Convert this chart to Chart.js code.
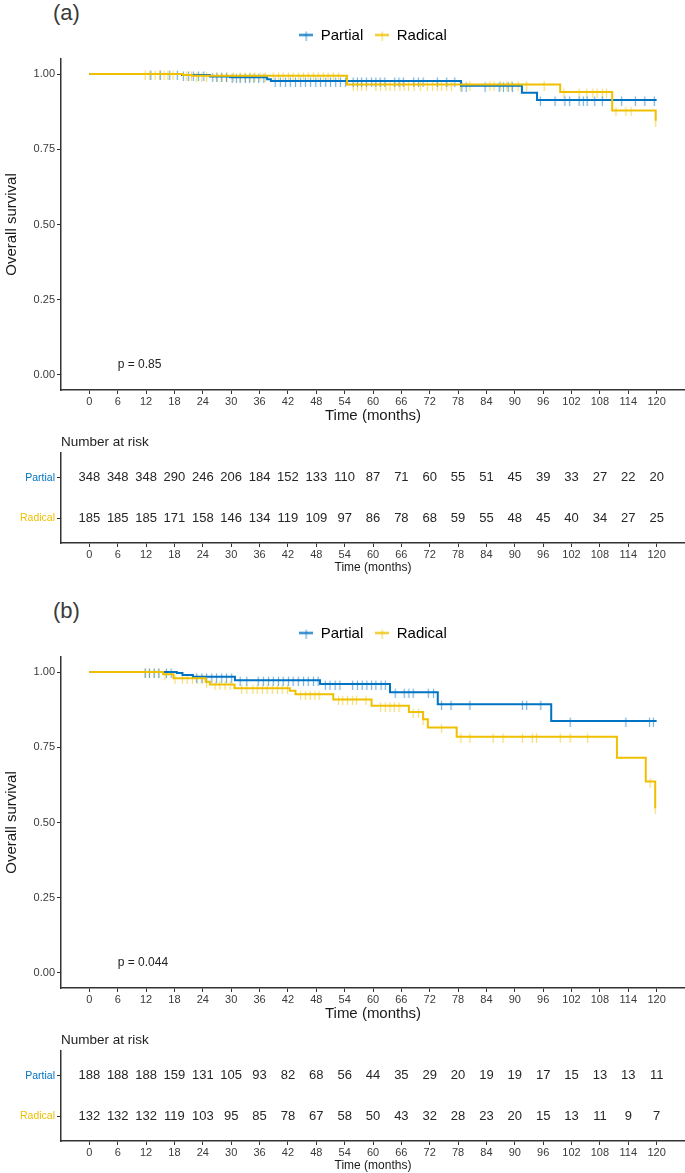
<!DOCTYPE html>
<html>
<head>
<meta charset="utf-8">
<title>Overall survival — partial vs radical</title>
<script src="https://cdn.jsdelivr.net/npm/chart.js@4.4.1/dist/chart.umd.min.js"></script>
<style>
    body { margin: 0; background: #fff; width: 685px; height: 1173px; position: relative; overflow: hidden;
           font-family: 'Liberation Sans', Arial, sans-serif; }
    .panel { position: absolute; left: 0; width: 685px; }
    .panel canvas { position: absolute; left: 0; }
    .tag { position: absolute; left: 53px; top: 2px; font-size: 22px; line-height: 22px; color: #3a3a3a; }
</style>
</head>
<body>

<div class="panel" style="top:0px">
    <div class="tag">(a)</div>
    <canvas id="kmA" width="685" height="425" style="top:0px"></canvas>
    <canvas id="riskA" width="685" height="150" style="top:425px"></canvas>
</div>

<div class="panel" style="top:598px">
    <div class="tag">(b)</div>
    <canvas id="kmB" width="685" height="425" style="top:0px"></canvas>
    <canvas id="riskB" width="685" height="150" style="top:425px"></canvas>
</div>

<script>
/* ─── DATA ─── */
const groups = ['Partial', 'Radical'];
const groupColors = ['#0073C2', '#EFC000'];
const timeTicks = [0, 6, 12, 18, 24, 30, 36, 42, 48, 54, 60, 66, 72, 78, 84, 90, 96, 102, 108, 114, 120];
const survTicks = [0, 0.25, 0.5, 0.75, 1];

// panel (a) — KM steps (time of drop, survival after drop)
const aPartialTime = [0, 19.6, 25.5, 29.8, 37.6, 38.4, 78.6, 91.5, 94.7, 120];
const aPartialSurv = [1, 0.997, 0.992, 0.989, 0.983, 0.977, 0.961, 0.938, 0.914, 0.914];
const aRadicalTime = [0, 19.8, 21.7, 54.5, 99.6, 110.6, 119.8];
const aRadicalSurv = [1, 0.997, 0.994, 0.965, 0.940, 0.879, 0.845];

const aPartialCensor = [13.0, 15.0, 17.0, 18.6, 19.9, 21.0, 22.0, 23.1, 24.2, 26.1, 27.0, 28.0, 29.0, 30.2, 31.1,
    31.9, 33.0, 33.9, 34.8, 35.8, 36.9, 39.3, 40.4, 41.5, 42.5, 43.6, 44.7, 45.7, 46.8, 47.9, 48.9, 50.0, 51.0,
    52.1, 53.1, 54.2, 55.8, 56.7, 57.6, 58.6, 59.7, 60.6, 61.5, 62.5, 64.6, 65.5, 66.4, 68.6, 69.6, 70.6, 73.6,
    75.6, 77.3, 78.8, 79.7, 83.7, 86.7, 87.6, 88.6, 89.5, 95.4, 98.5, 100.6, 101.6, 103.6, 104.5, 105.3, 106.9,
    108.5, 112.6, 115.5, 117.5, 119.5];
const aRadicalCensor = [11.8, 12.8, 13.9, 14.9, 15.8, 16.6, 17.7, 20.6, 21.6, 22.7, 23.8, 24.8, 26.9, 28.0, 29.1,
    30.5, 31.9, 32.9, 34.0, 35.0, 36.1, 37.2, 38.9, 40.0, 41.0, 42.1, 43.1, 44.2, 45.3, 46.3, 47.4, 48.4, 49.5,
    50.5, 51.6, 52.7, 55.8, 56.7, 57.6, 58.6, 60.6, 61.6, 62.7, 63.6, 64.6, 65.7, 66.6, 67.5, 68.7, 70.0, 71.5,
    72.6, 73.6, 74.5, 75.6, 76.6, 78.5, 80.5, 84.7, 85.6, 87.0, 88.3, 89.3, 90.7, 92.5, 96.2, 100.4, 103.6, 105.2,
    106.5, 107.4, 108.5, 109.4, 111.4, 113.5, 114.6, 119.8];

const aPartialRisk = [348, 348, 348, 290, 246, 206, 184, 152, 133, 110, 87, 71, 60, 55, 51, 45, 39, 33, 27, 22, 20];
const aRadicalRisk = [185, 185, 185, 171, 158, 146, 134, 119, 109, 97, 86, 78, 68, 59, 55, 48, 45, 40, 34, 27, 25];
const aPval = 'p = 0.85';

// panel (b)
const bPartialTime = [0, 18.5, 19.7, 21.9, 30.8, 48.8, 63.6, 73.7, 97.7, 120];
const bPartialSurv = [1, 0.997, 0.990, 0.984, 0.973, 0.960, 0.933, 0.893, 0.837, 0.837];
const bRadicalTime = [0, 15.6, 17.8, 24.6, 25.5, 30.7, 42.4, 43.6, 51.6, 59.7, 67.6, 70.6, 71.6, 77.7, 111.6, 117.7, 119.7];
const bRadicalSurv = [1, 0.993, 0.979, 0.968, 0.959, 0.946, 0.938, 0.926, 0.909, 0.888, 0.867, 0.843, 0.816, 0.785, 0.715, 0.636, 0.547];

const bPartialCensor = [11.8, 12.7, 13.7, 14.7, 16.3, 17.3, 22.7, 23.8, 24.8, 25.9, 26.9, 28.0, 29.0, 30.1, 31.9,
    33.3, 35.7, 36.8, 37.9, 38.9, 40.0, 41.0, 42.1, 43.1, 44.2, 45.3, 46.3, 47.4, 48.4, 49.9, 50.9, 52.0, 53.0,
    55.7, 56.7, 57.7, 58.7, 59.7, 60.6, 61.7, 62.6, 64.7, 66.6, 67.6, 68.5, 71.7, 72.8, 74.5, 76.5, 80.5, 91.6,
    92.5, 95.5, 101.7, 113.5, 118.5, 119.3];
const bRadicalCensor = [11.8, 12.7, 13.7, 14.7, 16.0, 18.1, 19.7, 20.7, 21.8, 22.8, 23.9, 24.8, 26.6, 27.6, 28.7,
    29.8, 32.2, 33.3, 34.6, 35.5, 36.6, 37.6, 38.7, 39.8, 40.8, 41.9, 44.7, 45.7, 46.7, 47.7, 48.6, 52.7, 53.6,
    54.6, 55.7, 56.5, 58.5, 61.6, 62.6, 63.6, 64.5, 65.5, 68.5, 69.6, 70.6, 74.5, 78.6, 80.5, 85.4, 87.5, 91.6,
    93.7, 94.6, 99.6, 101.7, 105.4, 118.6, 119.7];

const bPartialRisk = [188, 188, 188, 159, 131, 105, 93, 82, 68, 56, 44, 35, 29, 20, 19, 19, 17, 15, 13, 13, 11];
const bRadicalRisk = [132, 132, 132, 119, 103, 95, 85, 78, 67, 58, 50, 43, 32, 28, 23, 20, 15, 13, 11, 9, 7];
const bPval = 'p = 0.044';

/* ─── STYLE ─── */
const FONT = "'Liberation Sans', Arial, sans-serif";
Chart.defaults.font.family = FONT;
Chart.defaults.color = '#222';
const axisColor = '#333';
const tickColor = '#3a3a3a';
const riskRowOf = [2, 1];   // Partial on top, Radical below

// survival at time t (no interpolation)
function stepAt(times, surv, t) {
    let s = surv[0];
    times.forEach((ti, i) => { if (ti <= t) s = surv[i]; });
    return s;
}

function censorIcon(color) {
    const c = document.createElement('canvas');
    c.width = 3; c.height = 12;
    const g = c.getContext('2d');
    g.strokeStyle = color; g.globalAlpha = 0.55; g.lineWidth = 1.2;
    g.beginPath(); g.moveTo(1.5, 2.5); g.lineTo(1.5, 12); g.stroke();
    return c;
}

function legendIcon(color) {
    const c = document.createElement('canvas');
    c.width = 14; c.height = 10;
    const g = c.getContext('2d');
    g.strokeStyle = color;
    g.lineWidth = 2;
    g.beginPath(); g.moveTo(0, 4.5); g.lineTo(14, 4.5); g.stroke();
    g.globalAlpha = 0.6; g.lineWidth = 1.2;
    g.beginPath(); g.moveTo(7, 1); g.lineTo(7, 10); g.stroke();
    return c;
}

function timeAxis(titleSize, height) {
    return {
        type: 'linear', min: -6, max: 126,
        afterBuildTicks: s => { s.ticks = timeTicks.map(v => ({ value: v })); },
        afterFit: s => { s.height = height; },
        ticks: { autoSkip: false, maxRotation: 0, color: tickColor, font: { size: 11 }, padding: 1 },
        grid: { drawOnChartArea: false, tickLength: 4, color: axisColor },
        border: { color: axisColor, width: 1.5 },
        title: { display: true, text: 'Time (months)', color: '#1a1a1a', font: { size: titleSize }, padding: 0 },
    };
}

// p-value label, placed in data coordinates
const pvalPlugin = {
    id: 'pval',
    afterDatasetsDraw(chart, args, opts) {
        const { ctx, scales: { x, y } } = chart;
        ctx.save();
        ctx.font = '12px ' + FONT;
        ctx.fillStyle = '#222';
        ctx.textAlign = 'left';
        ctx.textBaseline = 'middle';
        ctx.fillText(opts.text, x.getPixelForValue(6), y.getPixelForValue(0.033));
        ctx.restore();
    }
};

// risk-table numbers at each (time, row) point
const riskText = {
    id: 'riskText',
    afterDatasetsDraw(chart) {
        const ctx = chart.ctx;
        ctx.save();
        ctx.font = '13px ' + FONT;
        ctx.fillStyle = '#262626';
        ctx.textAlign = 'center';
        ctx.textBaseline = 'middle';
        chart.data.datasets.forEach((ds, i) => {
            chart.getDatasetMeta(i).data.forEach((pt, k) => ctx.fillText(String(ds.data[k].n), pt.x, pt.y));
        });
        ctx.restore();
    }
};

/* ─── 1. KM PLOT ─── */
function drawKM(id, times, surv, censor, pval) {
    const datasets = [];
    groups.forEach((g, i) => {
        datasets.push({
            label: g,
            data: times[i].map((t, k) => ({ x: t, y: surv[i][k] })),
            borderColor: groupColors[i], borderWidth: 2,
            stepped: true, pointRadius: 0, fill: false,
            order: i === 0 ? 1 : 0,
        });
    });
    groups.forEach((g, i) => {
        datasets.push({
            label: g + ' (censored)',
            data: censor[i].map(t => ({ x: t, y: stepAt(times[i], surv[i], t) })),
            showLine: false,
            pointStyle: censorIcon(groupColors[i]),
            pointRadius: 3, pointHoverRadius: 3,
            order: 2 + i,
        });
    });

    new Chart(document.getElementById(id), {
        type: 'line',
        data: { datasets },
        options: {
            responsive: false,
            animation: false,
            events: [],
            layout: { autoPadding: false, padding: { top: 16, left: 0, right: 0, bottom: 0 } },
            plugins: {
                legend: {
                    position: 'top',
                    fullSize: false,
                    labels: {
                        usePointStyle: true,
                        pointStyleWidth: 14,
                        padding: 12,
                        color: '#222',
                        font: { size: 15 },
                        generateLabels: () => groups.map((g, i) => ({
                            text: g,
                            pointStyle: legendIcon(groupColors[i]),
                            fillStyle: groupColors[i],
                            strokeStyle: groupColors[i],
                            lineWidth: 0,
                            hidden: false,
                            datasetIndex: i,
                        })),
                    },
                },
                subtitle: { display: true, text: '', weight: 500, font: { size: 5 }, padding: 0 },
                tooltip: { enabled: false },
                pval: { text: pval },
            },
            scales: {
                x: timeAxis(15, 35),
                y: {
                    type: 'linear', min: -0.05, max: 1.05,
                    afterBuildTicks: s => { s.ticks = survTicks.map(v => ({ value: v })); },
                    afterFit: s => { s.width = 61; },
                    ticks: { callback: v => v.toFixed(2), color: tickColor, font: { size: 11 }, padding: 2 },
                    grid: { drawOnChartArea: false, tickLength: 4, color: axisColor },
                    border: { color: axisColor, width: 1.5 },
                    title: { display: true, text: 'Overall survival', color: '#1a1a1a', font: { size: 15 },
                             padding: { top: 3, bottom: 0 } },
                },
            },
        },
        plugins: [pvalPlugin],
    });
}

/* ─── 2. NUMBER AT RISK ─── */
function drawRisk(id, risk) {
    new Chart(document.getElementById(id), {
        type: 'line',
        data: {
            datasets: groups.map((g, i) => ({
                label: g,
                data: timeTicks.map((t, k) => ({ x: t, y: riskRowOf[i], n: risk[i][k] })),
                showLine: false, pointRadius: 0,
            })),
        },
        options: {
            responsive: false,
            animation: false,
            events: [],
            layout: { autoPadding: false, padding: 0 },
            plugins: {
                legend: { display: false },
                tooltip: { enabled: false },
                title: {
                    display: true, text: 'Number at risk', align: 'start', fullSize: false,
                    color: '#222', font: { size: 13.5, weight: 'normal' }, padding: { top: 9, bottom: 3 },
                },
            },
            scales: {
                x: timeAxis(12, 32),
                y: {
                    type: 'linear', min: 0.4, max: 2.6,
                    afterBuildTicks: s => { s.ticks = riskRowOf.map(v => ({ value: v })); },
                    afterFit: s => { s.width = 61; },
                    ticks: {
                        callback: v => groups[riskRowOf.indexOf(v)],
                        color: c => groupColors[riskRowOf.indexOf(c.tick.value)],
                        font: { size: 10.5 }, padding: 2,
                    },
                    grid: { drawOnChartArea: false, tickLength: 4, color: axisColor },
                    border: { color: axisColor, width: 1.5 },
                },
            },
        },
        plugins: [riskText],
    });
}

drawKM('kmA', [aPartialTime, aRadicalTime], [aPartialSurv, aRadicalSurv], [aPartialCensor, aRadicalCensor], aPval);
drawRisk('riskA', [aPartialRisk, aRadicalRisk]);
drawKM('kmB', [bPartialTime, bRadicalTime], [bPartialSurv, bRadicalSurv], [bPartialCensor, bRadicalCensor], bPval);
drawRisk('riskB', [bPartialRisk, bRadicalRisk]);
</script>
</body>
</html>
